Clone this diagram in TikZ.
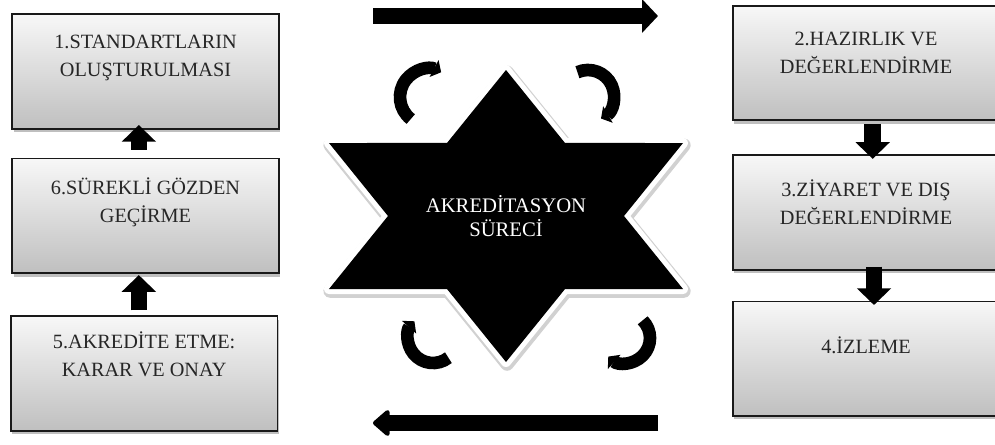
\documentclass[tikz,border=0pt]{standalone}
\usepackage{fontspec}
\setmainfont{Liberation Serif}
\usetikzlibrary{arrows.meta,positioning,shadows}
\definecolor{ink}{RGB}{38,38,38}

\tikzset{
  stage/.style={draw=black!90,line width=1.3pt,top color=black!3,bottom color=black!25,
    minimum width=200pt,minimum height=86pt,
    drop shadow={shadow xshift=1pt,shadow yshift=-2.5pt,opacity=.25,fill=black}},
  stagetext/.style={align=center,text=ink,font=\fontsize{15.2}{21}\selectfont},
  flow/.style={line width=12.5pt,-{Triangle[length=12.5pt,width=25pt]}},
  turn/.style={line width=9.5pt,-{Triangle[length=6pt,width=14pt]}},
  rim/.style={line width=7.5pt,line join=round},
}

\begin{document}
\begin{tikzpicture}[x=0.75pt,y=0.75pt]
\useasboundingbox (0,0) rectangle (995,444);
\clip (0,0) rectangle (995,444);

% left column
\node[stage] (b1) at (145.5,372.5) {};
\node[stage,below=21pt of b1] (b6) {};
\node[stage,below=31pt of b6,xshift=-1pt] (b5) {};
\node[stagetext] (t1) at ([yshift=10pt]b1.center) {1.STANDARTLARIN\\OLUŞTURULMASI};
\node[stagetext] (t6) at ([yshift=10.5pt]b6.center) {6.SÜREKLİ GÖZDEN\\GEÇİRME};
\node[stagetext] (t5) at ([yshift=14.5pt]b5.center) {5.AKREDİTE ETME:\\KARAR VE ONAY};

% right column
\node[stage] (b2) at (866,381) {};
\node[stage,below=24.75pt of b2] (b3) {};
\node[stage,below=22.5pt of b3] (b4) {};
\node[stagetext] (t2) at ([yshift=7.5pt]b2.center) {2.HAZIRLIK VE\\DEĞERLENDİRME};
\node[stagetext] (t3) at ([yshift=7.5pt]b3.center) {3.ZİYARET VE DIŞ\\DEĞERLENDİRME};
\node[stagetext] (t4) at ([yshift=10.5pt]b4.center) {4.İZLEME};

\draw[flow] ([xshift=-5pt,yshift=6pt]b6.north) -- ([xshift=-5pt,yshift=3.5pt]b1.south);
\draw[flow] ([xshift=-4pt,yshift=3.75pt]b5.north) -- ([xshift=-5pt,yshift=-0.75pt]b6.south);
\draw[flow] ([xshift=5pt,yshift=-2pt]b2.south) -- ([xshift=5pt,yshift=-3.5pt]b3.north);
\draw[flow] ([xshift=6pt,yshift=3pt]b3.south) -- ([xshift=6pt,yshift=-3.3pt]b4.north);

% star in the middle
\path[shift={(506,228)},xscale=1.4,save path=\hexpath]
  (90:146) \foreach \k in {0,...,4} {-- ({60-60*\k}:84.3) -- ({30-60*\k}:146)}
  -- (120:84.3) -- cycle;
\begin{scope}[transform canvas={shift={(0.8pt,-1.6pt)}}]
  \path[use path=\hexpath,rim,line width=10pt,draw=black!18];
\end{scope}
\path[use path=\hexpath,rim,draw=white];
\path[use path=\hexpath,fill=black];
\node[align=center,text=white,font=\fontsize{15.5}{18}\selectfont] (core) at (506,228)
  {AKREDİTASYON\\SÜRECİ};

% turning arrows
\draw[turn] (428,347) ++(232:28) arc[start angle=232,end angle=62,radius=28];
\draw[turn] (588,348) ++(114:26) arc[start angle=114,end angle=-60,radius=26];
\draw[turn] (625,106) ++(45:25) arc[start angle=45,end angle=-132,radius=25];
\draw[turn] (433,106) ++(-52:25) arc[start angle=-52,end angle=-222,radius=25];

% long arrows
\coordinate (topL) at (373,428);
\coordinate (topR) at (658,428);
\coordinate (botR) at (658,21);
\coordinate (botL) at (373,21);
\draw[line width=12pt,-{Triangle[length=12pt,width=24.75pt]}] (topL) -- (topR);
\draw[line width=12pt,line join=round,-{Triangle[round,length=13.5pt,width=22.5pt]}] (botR) -- (botL);
\end{tikzpicture}
\end{document}
